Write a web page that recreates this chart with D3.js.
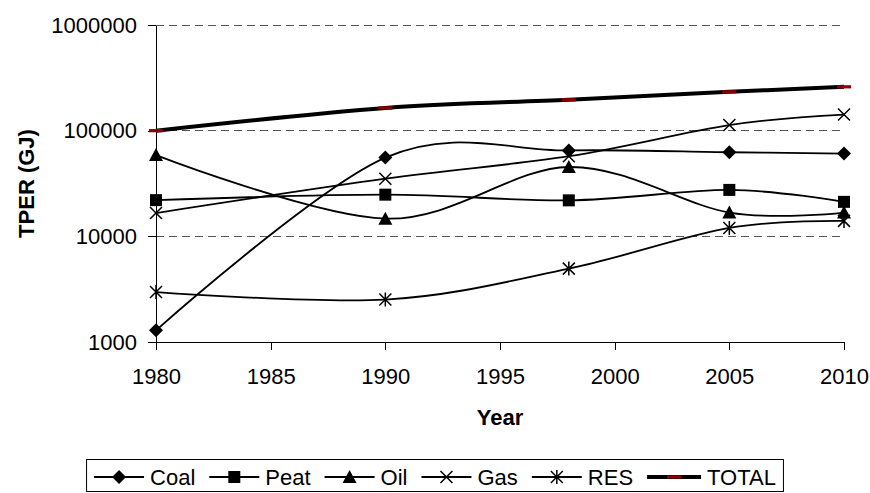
<!DOCTYPE html>
<html>
<head>
<meta charset="utf-8">
<script src="https://cdn.jsdelivr.net/npm/d3@7"></script>
<style>
  body { margin: 0; background: #fff; }
  svg { display: block; font-family: "Liberation Sans", Arial, sans-serif; }
</style>
</head>
<body>
<svg id="chart" width="870" height="493"></svg>
<script>
// values
var years = [1980, 1990, 1998, 2005, 2010]
var coal  = [1290, 55600, 65000, 62500, 60700]
var peat  = [22000, 24800, 21900, 27500, 21200]
var oil   = [58700, 14700, 45300, 16800, 16800]
var gas   = [16600, 35100, 57300, 113000, 142000]
var res   = [2970, 2520, 4950, 12000, 14000]
var total = [100000, 164000, 196000, 233000, 260000]

var seriesNames = ["Coal", "Peat", "Oil", "Gas", "RES", "TOTAL"]
var seriesValues = [coal, peat, oil, gas, res, total]
var markerTypes = ["diamond", "square", "triangle", "cross", "star", "dash"]

var xTicks = [1980, 1985, 1990, 1995, 2000, 2005, 2010]
var yTicks = [1000, 10000, 100000, 1000000]

var svg = d3.select("#chart")
var plotLeft = 156, plotRight = 844, plotTop = 25, plotBottom = 342

var x = d3.scaleLinear().domain([1980, 2010]).range([plotLeft, plotRight])
var y = d3.scaleLog().domain([1000, 1000000]).range([plotBottom, plotTop])

// dashed gridlines
svg.append("g").selectAll("line")
  .data(yTicks.slice(1))
  .enter().append("line")
  .attr("x1", plotLeft).attr("x2", plotRight)
  .attr("y1", function(d) { return y(d) }).attr("y2", function(d) { return y(d) })
  .attr("stroke", "#555")
  .attr("stroke-dasharray", "8,5")
  .attr("shape-rendering", "crispEdges")

// axes
svg.append("g")
  .attr("transform", "translate(" + plotLeft + ",0)")
  .call(d3.axisLeft(y).tickValues(yTicks).tickSize(8).tickSizeOuter(0)
    .tickPadding(11).tickFormat(d3.format("d")))
svg.append("g")
  .attr("transform", "translate(0," + plotBottom + ")")
  .call(d3.axisBottom(x).tickValues(xTicks).tickSize(8).tickSizeOuter(0)
    .tickPadding(18).tickFormat(d3.format("d")))

svg.selectAll(".tick text").attr("font-size", 22).attr("fill", "#000")
  .attr("font-family", "Liberation Sans, Arial, sans-serif")
svg.selectAll(".domain, .tick line").attr("stroke", "#000")
  .attr("shape-rendering", "crispEdges")

// axis titles
svg.append("text")
  .attr("transform", "translate(34," + ((plotTop + plotBottom) / 2) + ") rotate(-90)")
  .attr("text-anchor", "middle")
  .attr("font-size", 22).attr("font-weight", "bold")
  .text("TPER (GJ)")
svg.append("text")
  .attr("x", (plotLeft + plotRight) / 2).attr("y", 425)
  .attr("text-anchor", "middle")
  .attr("font-size", 22).attr("font-weight", "bold")
  .text("Year")

function drawMarker(g, type) {
  if (type == "diamond") {
    g.append("path").attr("d", "M0,-7L7,0L0,7L-7,0Z").attr("fill", "#000")
  } else if (type == "square") {
    g.append("rect").attr("x", -6).attr("y", -6).attr("width", 12).attr("height", 12).attr("fill", "#000")
  } else if (type == "triangle") {
    g.append("path").attr("d", "M0,-7L7,6L-7,6Z").attr("fill", "#000")
  } else if (type == "cross") {
    g.append("path").attr("d", "M-6,-6L6,6M-6,6L6,-6").attr("stroke", "#000").attr("stroke-width", 1.5)
  } else if (type == "star") {
    g.append("path").attr("d", "M-6,-6L6,6M-6,6L6,-6M0,-7L0,7").attr("stroke", "#000").attr("stroke-width", 1.5)
  } else if (type == "dash") {
    g.append("rect").attr("x", -7).attr("y", -1.6).attr("width", 14).attr("height", 3.2).attr("fill", "#8b0000")
  }
}

var line = d3.line()
  .x(function(d) { return x(d[0]) })
  .y(function(d) { return y(d[1]) })
  .curve(d3.curveCardinal.tension(0))

seriesValues.forEach(function(vals, i) {
  var pts = years.map(function(yr, j) { return [yr, vals[j]] })
  var g = svg.append("g").attr("class", "series")
  g.append("path")
    .attr("d", line(pts))
    .attr("fill", "none")
    .attr("stroke", "#000")
    .attr("stroke-width", markerTypes[i] == "dash" ? 4 : 1.8)
  pts.forEach(function(p) {
    var m = g.append("g").attr("transform", "translate(" + x(p[0]) + "," + y(p[1]) + ")")
    drawMarker(m, markerTypes[i])
  })
})

// legend
var legend = svg.append("g")
var lx = 0
seriesNames.forEach(function(name, i) {
  var g = legend.append("g").attr("transform", "translate(" + lx + ",0)")
  var isTotal = markerTypes[i] == "dash"
  var sampleLen = isTotal ? 54 : 50
  g.append("line").attr("x1", 0).attr("x2", sampleLen).attr("y1", 0).attr("y2", 0)
    .attr("stroke", "#000").attr("stroke-width", isTotal ? 4 : 1.8)
  var m = g.append("g").attr("transform", "translate(" + (sampleLen / 2) + ",0)")
  drawMarker(m, markerTypes[i])
  var t = g.append("text").attr("x", sampleLen + 6).attr("y", 8)
    .attr("font-size", 22).text(name)
  var w = t.node().getComputedTextLength()
  lx += sampleLen + 6 + w + 14
})
var legendW = lx - 14
var legendLeft = 435 - legendW / 2
legend.attr("transform", "translate(" + legendLeft + ",477)")
svg.insert("rect", "g")
  .attr("x", legendLeft - 7.5).attr("y", 459.5)
  .attr("width", legendW + 15).attr("height", 32)
  .attr("fill", "#fff").attr("stroke", "#000").attr("stroke-width", 1)
</script>
</body>
</html>
